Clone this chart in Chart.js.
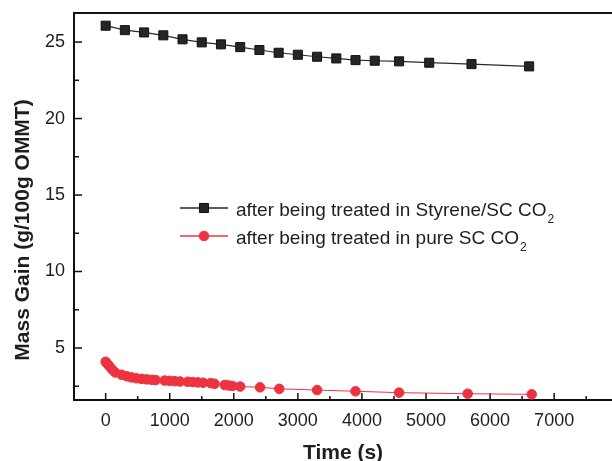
<!DOCTYPE html>
<html>
<head>
<meta charset="utf-8">
<script src="https://cdn.jsdelivr.net/npm/chart.js@4.4.1/dist/chart.umd.min.js"></script>
<style>
  html, body { margin: 0; padding: 0; background: #fff; }
</style>
</head>
<body>
<canvas id="myChart" width="612" height="461"></canvas>
<script>
// data
const styreneTime = [0, 300, 600, 900, 1200, 1500, 1800, 2100, 2400, 2700, 3000, 3300, 3600, 3900, 4200, 4580, 5050, 5710, 6610];
const styreneGain = [26.07, 25.78, 25.63, 25.44, 25.18, 24.98, 24.85, 24.67, 24.48, 24.30, 24.17, 24.04, 23.93, 23.82, 23.78, 23.74, 23.65, 23.56, 23.41];

const pureTime = [0, 30, 60, 100, 150, 250, 330, 400, 480, 560, 640, 720, 780, 920, 1000, 1080, 1160, 1280, 1360, 1440, 1520, 1640, 1700, 1860, 1920, 1980, 2100, 2410, 2710, 3300, 3900, 4580, 5650, 6650];
const pureGain = [4.10, 3.95, 3.80, 3.60, 3.40, 3.25, 3.15, 3.08, 3.02, 2.98, 2.95, 2.92, 2.90, 2.87, 2.85, 2.83, 2.81, 2.79, 2.77, 2.75, 2.73, 2.70, 2.66, 2.58, 2.55, 2.52, 2.48, 2.43, 2.33, 2.25, 2.17, 2.08, 2.01, 1.97];

// tick positions (major ones get a label)
const xTicks = [0, 500, 1000, 1500, 2000, 2500, 3000, 3500, 4000, 4500, 5000, 5500, 6000, 6500, 7000, 7500];
const xLabels = [0, 1000, 2000, 3000, 4000, 5000, 6000, 7000];
const yTicks = [2.5, 5, 7.5, 10, 12.5, 15, 17.5, 20, 22.5, 25];
const yLabels = [5, 10, 15, 20, 25];

const seriesLabels = ['after being treated in Styrene/SC CO\u2082', 'after being treated in pure SC CO\u2082'];
const xTitle = 'Time (s)';
const yTitle = 'Mass Gain (g/100g OMMT)';

const ink = '#1e1e1e';
const FONT = '"Liberation Sans", Arial, Helvetica, sans-serif';

const isLabel = (list, v) => list.some(l => Math.abs(l - v) < 1e-6);

// frame + inward ticks (major and minor)
const frameTicks = {
  id: 'frameTicks',
  beforeDatasetsDraw(chart) {
    const { ctx, chartArea: a, scales: { x, y } } = chart;
    ctx.save();
    ctx.strokeStyle = '#111';
    ctx.lineWidth = 1.5;
    x.ticks.forEach(t => {
      const px = x.getPixelForValue(t.value);
      const len = isLabel(xLabels, t.value) ? 7 : 4;
      ctx.beginPath();
      ctx.moveTo(px, a.bottom);
      ctx.lineTo(px, a.bottom - len);
      ctx.stroke();
    });
    y.ticks.forEach(t => {
      const py = y.getPixelForValue(t.value);
      const len = isLabel(yLabels, t.value) ? 8 : 5;
      ctx.beginPath();
      ctx.moveTo(a.left, py);
      ctx.lineTo(a.left + len, py);
      ctx.stroke();
    });
    ctx.lineWidth = 2;
    ctx.beginPath();
    ctx.moveTo(a.right + 2, a.top);
    ctx.lineTo(a.left, a.top);
    ctx.lineTo(a.left, a.bottom);
    ctx.lineTo(a.right + 2, a.bottom);
    ctx.stroke();
    ctx.restore();
  },
  afterDraw(chart) {
    const { ctx, chartArea: a } = chart;
    ctx.save();
    ctx.fillStyle = ink;
    // axis titles
    ctx.font = 'bold 21px ' + FONT;
    ctx.textAlign = 'center';
    ctx.textBaseline = 'alphabetic';
    ctx.fillText(xTitle, (a.left + a.right) / 2, 459);
    ctx.translate(29, 230);
    ctx.rotate(-Math.PI / 2);
    ctx.fillText(yTitle, 0, 0);
    ctx.restore();

    // legend inside the plot
    ctx.save();
    chart.data.datasets.forEach((ds, i) => {
      const ly = 208 + i * 28;
      ctx.strokeStyle = ds.borderColor;
      ctx.lineWidth = 1.5;
      ctx.beginPath();
      ctx.moveTo(180, ly);
      ctx.lineTo(228, ly);
      ctx.stroke();
      ctx.fillStyle = ds.pointBackgroundColor;
      ctx.strokeStyle = ds.pointBorderColor;
      ctx.lineWidth = 1;
      Chart.helpers.drawPoint(ctx, { pointStyle: ds.pointStyle, radius: ds.pointRadius, borderWidth: 1 }, 204, ly);
      let txt = ds.label;
      const sub = txt.endsWith('\u2082');
      if (sub) txt = txt.slice(0, -1);
      ctx.fillStyle = ink;
      ctx.font = '19px ' + FONT;
      ctx.textAlign = 'left';
      ctx.textBaseline = 'alphabetic';
      ctx.fillText(txt, 236, ly + 8);
      if (sub) {
        const w = ctx.measureText(txt).width;
        ctx.font = '12px ' + FONT;
        ctx.fillText('2', 236 + w + 1, ly + 15);
      }
    });
    ctx.restore();
  }
};

const ctx = document.getElementById('myChart');
const myChart = new Chart(ctx, {
  type: 'line',
  data: {
    datasets: [{
      label: seriesLabels[0],
      data: styreneTime.map((t, i) => ({ x: t, y: styreneGain[i] })),
      borderColor: '#2a2a2a',
      borderWidth: 1.2,
      pointStyle: 'rect',
      pointRadius: 6.4,
      pointBackgroundColor: '#262626',
      pointBorderColor: '#111',
      pointBorderWidth: 1
    }, {
      label: seriesLabels[1],
      data: pureTime.map((t, i) => ({ x: t, y: pureGain[i] })),
      borderColor: '#ee3340',
      borderWidth: 1,
      pointStyle: 'circle',
      pointRadius: 4.8,
      pointBackgroundColor: '#ee3340',
      pointBorderColor: '#ee3340',
      pointBorderWidth: 1
    }]
  },
  options: {
    responsive: false,
    animation: false,
    layout: { autoPadding: false, padding: { top: 13, right: 0, left: 0, bottom: 0 } },
    plugins: {
      legend: { display: false },
      tooltip: { enabled: false }
    },
    scales: {
      x: {
        type: 'linear',
        min: -494,
        max: 7903,
        afterBuildTicks(scale) { scale.ticks = xTicks.map(v => ({ value: v })); },
        afterFit(scale) {
          scale.height = 61;
          scale.paddingLeft = 0;
          scale.paddingRight = 0;
        },
        grid: { display: false, drawTicks: false },
        border: { display: false },
        ticks: {
          autoSkip: false,
          maxRotation: 0,
          padding: 10,
          color: ink,
          font: { family: FONT, size: 18 },
          callback: v => (isLabel(xLabels, v) ? String(Math.round(v)) : '')
        }
      },
      y: {
        min: 1.6,
        max: 26.9,
        afterBuildTicks(scale) { scale.ticks = yTicks.map(v => ({ value: v })); },
        afterFit(scale) {
          scale.width = 74;
          scale.paddingTop = 0;
          scale.paddingBottom = 0;
        },
        grid: { display: false, drawTicks: false },
        border: { display: false },
        ticks: {
          autoSkip: false,
          padding: 9,
          color: ink,
          font: { family: FONT, size: 18 },
          callback: v => (isLabel(yLabels, v) ? String(Math.round(v)) : '')
        }
      }
    }
  },
  plugins: [frameTicks]
});
</script>
</body>
</html>
